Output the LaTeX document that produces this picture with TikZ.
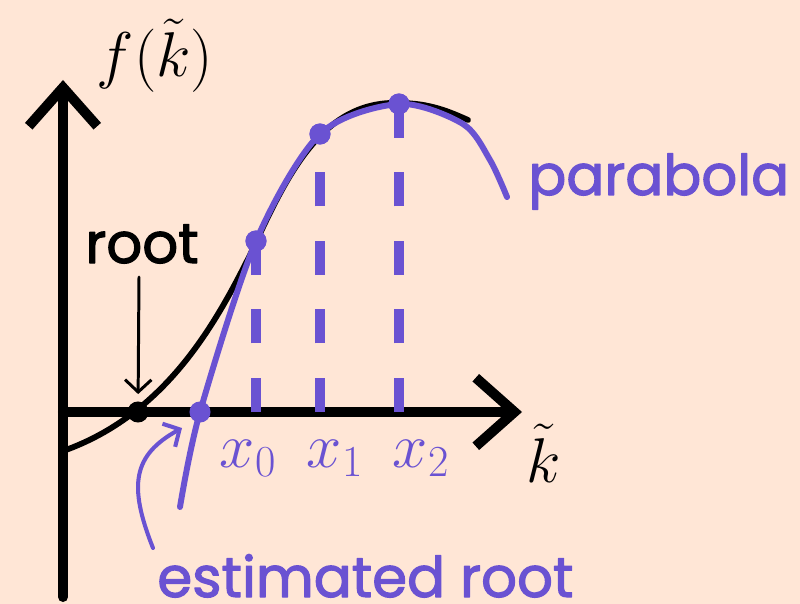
\RequirePackage{fix-cm}
\documentclass[tikz,border=0pt]{standalone}
\usepackage[no-math]{fontspec}
\newfontfamily\lblfont[FakeBold=2]{Poppins}
\usetikzlibrary{arrows.meta, positioning, calc}
\definecolor{bgc}{HTML}{FFE6D6}
\definecolor{parc}{HTML}{6A52D2}
\tikzset{
  axis/.style={line width=5.7pt, line cap=round,
               -{Straight Barb[length=22pt, width=39pt]}},
  pointer/.style={line width=#1, -{Straight Barb[length=7pt, width=15pt]}},
  dot/.style={circle, fill=#1, minimum size=12pt, inner sep=0pt},
  dashline/.style={parc, line width=5.7pt, line cap=butt,
                   dash pattern=on 19.5pt off 19.5pt},
  mathlbl/.style={font=\fontsize{36}{40}\selectfont, inner sep=0pt, anchor=base},
  txtlbl/.style={font=\lblfont\fontsize{32}{38}\selectfont, inner sep=0pt,
                 anchor=base west}
}

\begin{document}
\begin{tikzpicture}[x=0.02cm, y=-0.02cm, line cap=round, line join=round]
  \fill[bgc] (0,0) rectangle (800,604);
  \useasboundingbox (0,0) rectangle (800,604);
  % axes
  \coordinate (O) at (63,412);
  \coordinate (ybot) at (63,597);
  \coordinate (ytop) at (63,80);
  \coordinate (xend) at (522,412);
  \draw[axis] (ybot) -- (ytop);
  \draw[axis] (O) -- (xend);
  % function and parabola
  \draw[line width=3.3pt] (63,451) .. controls (165,415) and (215,325) .. (250,255)
    .. controls (285,180) and (320,100) .. (399,103)
    .. controls (430,103) and (450,112) .. (468,120);
  \draw[parc, line width=3.4pt] plot[smooth] coordinates
    {(180,507) (200,412) (256,241) (320,134) (399,104) (463,124) (490,160) (507,197)};
  % sample points
  \node[dot=parc] (p0) at (256,241) {};
  \node[dot=parc] (p1) at (320,134) {};
  \node[dot=parc] (p2) at (399,104) {};
  \foreach \i in {0,1,2}
    \draw[dashline] (p\i |- O) -- (p\i.center);
  \node[dot=parc] at (p0) {};
  \node[dot=parc] at (p1) {};
  \node[dot=parc] at (p2) {};
  \node[dot=black] (r0) at (138,412) {};
  \node[dot=parc] (re) at (200,412) {};
  % labels
  \node[mathlbl] (fk) at (155,77) {$f(\tilde{k})$};
  \node[mathlbl] (kt) at (544,482) {$\tilde{k}$};
  \foreach \i/\x in {0/248,1/335,2/421}
    \node[mathlbl, parc] (x\i) at (\x,467) {$x_\i$};
  \node[txtlbl] (rootlbl) at (85,263) {root};
  \node[txtlbl, parc] (parlbl) at (528,195) {parabola};
  \node[txtlbl, parc] (estlbl) at (157,597) {estimated root};
  % pointers
  \coordinate (rtop) at (139,277);
  \draw[pointer=1.7pt, shorten >=4pt] (rtop) -- (r0);
  \coordinate (etail) at (153,548);
  \coordinate (ehead) at (182,428);
  \draw[pointer=2.3pt, parc] (etail) .. controls (128,485) and (133,455) .. (ehead);
\end{tikzpicture}
\end{document}
